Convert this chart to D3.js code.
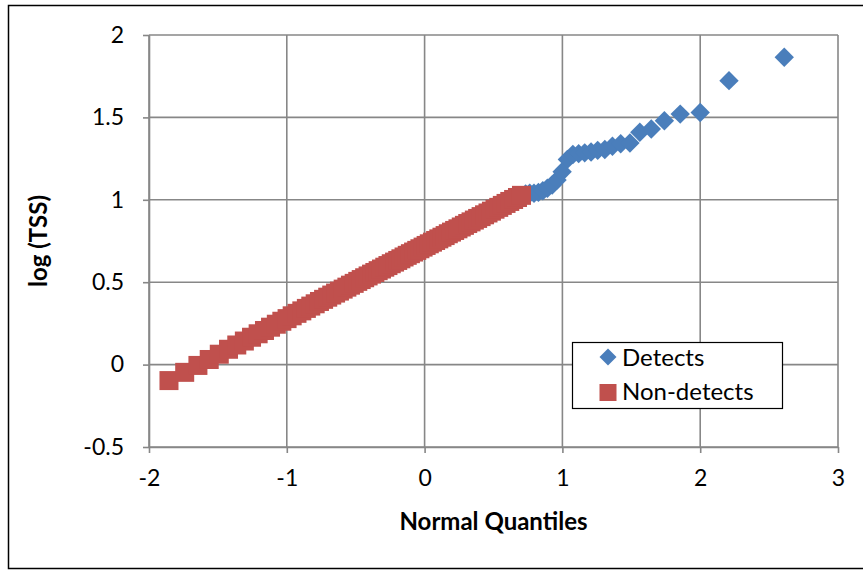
<!DOCTYPE html>
<html>
<head>
<meta charset="utf-8">
<script src="https://cdn.jsdelivr.net/npm/d3@7"></script>
<style>
  html, body { margin: 0; padding: 0; background: #fff; }
  svg { display: block; }
  text { font-family: Lato, "Open Sans", "Liberation Sans", sans-serif; fill: #000; }
</style>
</head>
<body>
<svg id="chart" width="863" height="571"></svg>
<script>
// ---- data ----
const xTicks = [-2, -1, 0, 1, 2, 3];
const yTicks = [-0.5, 0, 0.5, 1, 1.5, 2];

// Detects: normal quantile, log(TSS)
const detectsX = [0.733, 0.763, 0.794, 0.826, 0.858, 0.891, 0.926, 0.961, 0.998, 1.036,
                  1.076, 1.118, 1.162, 1.208, 1.256, 1.308, 1.363, 1.423, 1.490, 1.562,
                  1.645, 1.740, 1.855, 2.000, 2.209, 2.610];
const detectsY = [1.035, 1.040, 1.040, 1.045, 1.055, 1.070, 1.090, 1.120, 1.170, 1.245,
                  1.275, 1.280, 1.285, 1.290, 1.300, 1.305, 1.325, 1.340, 1.345, 1.410,
                  1.430, 1.480, 1.520, 1.530, 1.723, 1.865];

// Non-detects: normal quantile, log(TSS)
const nonDetectsX = [-1.855, -1.741, -1.645, -1.563, -1.490, -1.423, -1.363, -1.308, -1.256, -1.208,
                     -1.162, -1.118, -1.076, -1.036, -0.998, -0.961, -0.926, -0.891, -0.858, -0.826,
                     -0.794, -0.763, -0.733, -0.703, -0.674, -0.646, -0.618, -0.591, -0.564, -0.538,
                     -0.511, -0.485, -0.460, -0.435, -0.410, -0.385, -0.361, -0.337, -0.313, -0.289,
                     -0.266, -0.242, -0.218, -0.195, -0.172, -0.149, -0.126, -0.103, -0.080, -0.057,
                     -0.034, -0.011, 0.011, 0.034, 0.057, 0.080, 0.103, 0.126, 0.149, 0.172,
                     0.195, 0.218, 0.242, 0.266, 0.289, 0.313, 0.337, 0.361, 0.385, 0.410,
                     0.435, 0.460, 0.485, 0.511, 0.538, 0.564, 0.591, 0.618, 0.646, 0.674, 0.703];
const nonDetectsY = [-0.097, -0.047, -0.005, 0.031, 0.063, 0.093, 0.119, 0.143, 0.166, 0.187,
                     0.207, 0.227, 0.245, 0.263, 0.279, 0.296, 0.311, 0.326, 0.341, 0.355,
                     0.369, 0.383, 0.396, 0.409, 0.422, 0.434, 0.446, 0.458, 0.470, 0.482,
                     0.493, 0.505, 0.516, 0.527, 0.538, 0.549, 0.559, 0.570, 0.580, 0.591,
                     0.601, 0.612, 0.622, 0.632, 0.642, 0.653, 0.663, 0.673, 0.683, 0.693,
                     0.703, 0.713, 0.723, 0.733, 0.743, 0.753, 0.763, 0.773, 0.783, 0.794,
                     0.804, 0.814, 0.824, 0.835, 0.845, 0.856, 0.866, 0.877, 0.887, 0.898,
                     0.909, 0.920, 0.931, 0.943, 0.954, 0.966, 0.978, 0.990, 1.002, 1.014, 1.027];

const seriesNames = ["Detects", "Non-detects"];
const xTitle = "Normal Quantiles";
const yTitle = "log (TSS)";

(function () {
// ---- layout ----
const svg = d3.select("#chart");
const pL = 149, pR = 838, pT = 35, pB = 447;
const gridColor = "#878787";
const blue = "#4A7EBB";
const red = "#C0504D";

const x = d3.scaleLinear().domain([-2, 3]).range([pL, pR]);
const y = d3.scaleLinear().domain([-0.5, 2]).range([pB, pT]);

// chart area border
svg.append("rect")
  .attr("x", 8.5).attr("y", 5.5).attr("width", 880).attr("height", 563)
  .attr("fill", "#fff").attr("stroke", "#000").attr("stroke-width", 1.5);

// gridlines
const grid = svg.append("g").attr("stroke", gridColor).attr("stroke-width", 1.6);
grid.selectAll("line.h").data(yTicks).join("line").attr("class", "h")
  .attr("x1", pL).attr("x2", pR)
  .attr("y1", d => y(d)).attr("y2", d => y(d));
grid.selectAll("line.v").data(xTicks).join("line").attr("class", "v")
  .attr("y1", pT).attr("y2", pB)
  .attr("x1", d => x(d)).attr("x2", d => x(d));

// axes
const fmt = d => String(d);
const yAxis = svg.append("g").attr("transform", `translate(${pL},0)`)
  .call(d3.axisLeft(y).tickValues(yTicks).tickFormat(fmt).tickSize(6).tickSizeOuter(0).tickPadding(19));
const xAxis = svg.append("g").attr("transform", `translate(0,${pB})`)
  .call(d3.axisBottom(x).tickValues(xTicks).tickFormat(fmt).tickSize(6).tickSizeOuter(0).tickPadding(17));
[yAxis, xAxis].forEach(a => {
  a.selectAll("path, line").attr("stroke", gridColor).attr("stroke-width", 1.6);
  a.selectAll("text").attr("font-size", 23).attr("fill", "#000")
    .style("font-family", "Lato, 'Open Sans', sans-serif");
});

// axis titles
svg.append("text")
  .attr("x", (pL + pR) / 2).attr("y", 530)
  .attr("text-anchor", "middle").attr("font-size", 24).attr("font-weight", "bold")
  .text(xTitle);
svg.append("text")
  .attr("transform", `translate(47,${(pT + pB) / 2}) rotate(-90)`)
  .attr("text-anchor", "middle").attr("font-size", 24).attr("font-weight", "bold")
  .text(yTitle);

// markers
const dSize = 9.7;   // half diagonal of diamond
const sSize = 19;    // square side
const diamond = (cx, cy, h) => `M${cx},${cy - h}L${cx + h},${cy}L${cx},${cy + h}L${cx - h},${cy}Z`;

const detects = detectsX.map((v, i) => ({ x: v, y: detectsY[i] }));
const nonDetects = nonDetectsX.map((v, i) => ({ x: v, y: nonDetectsY[i] }));

svg.append("g").selectAll("path").data(detects).join("path")
  .attr("d", d => diamond(x(d.x), y(d.y), dSize))
  .attr("fill", blue);

svg.append("g").selectAll("rect").data(nonDetects).join("rect")
  .attr("x", d => x(d.x) - sSize / 2).attr("y", d => y(d.y) - sSize / 2)
  .attr("width", sSize).attr("height", sSize)
  .attr("fill", red);

// legend
const lg = svg.append("g");
lg.append("rect").attr("x", 572.5).attr("y", 342.5).attr("width", 210).attr("height", 66)
  .attr("fill", "#fff").attr("stroke", "#000").attr("stroke-width", 1.2);
lg.append("path").attr("d", diamond(608, 357, 8.5)).attr("fill", blue);
lg.append("rect").attr("x", 599.5).attr("y", 384).attr("width", 17).attr("height", 17).attr("fill", red);
lg.append("text").attr("x", 622).attr("y", 366).attr("font-size", 24).text(seriesNames[0]);
lg.append("text").attr("x", 622).attr("y", 400).attr("font-size", 24).text(seriesNames[1]);
})();
</script>
</body>
</html>
